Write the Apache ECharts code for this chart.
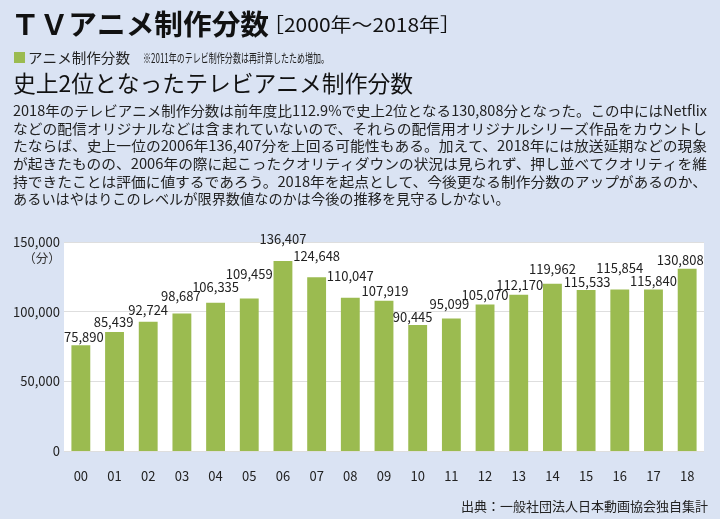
<!DOCTYPE html>
<html><head><meta charset="utf-8">
<script src="https://cdn.jsdelivr.net/npm/echarts@6/dist/echarts.min.js"></script>
<style>html,body{margin:0;padding:0;background:#dae3f3}#c{width:720px;height:519px}</style>
</head><body><div id="c"></div>
<script>
const years = ['00','01','02','03','04','05','06','07','08','09','10','11','12','13','14','15','16','17','18'];
const minutes = [75890,85439,92724,98687,106335,109459,136407,124648,110047,107919,90445,95099,105070,112170,119962,115533,115854,115840,130808];
const yMax = 150000;
const yStep = 50000;
const titleMain = 'ＴＶアニメ制作分数';
const titleRange = '［2000年～2018年］';
const legendName = 'アニメ制作分数';
const legendNote = '※2011年のテレビ制作分数は再計算したため増加。';
const subTitle = '史上2位となったテレビアニメ制作分数';
const bodyLines = [
  '2018年のテレビアニメ制作分数は前年度比112.9%で史上2位となる130,808分となった。この中にはNetflix',
  'などの配信オリジナルなどは含まれていないので、それらの配信用オリジナルシリーズ作品をカウントし',
  'たならば、史上一位の2006年136,407分を上回る可能性もある。加えて、2018年には放送延期などの現象',
  'が起きたものの、2006年の際に起こったクオリティダウンの状況は見られず、押し並べてクオリティを維',
  '持できたことは評価に値するであろう。2018年を起点として、今後更なる制作分数のアップがあるのか、',
  'あるいはやはりこのレベルが限界数値なのかは今後の推移を見守るしかない。'
];
const unitLabel = '（分）';
const sourceText = '出典：一般社団法人日本動画協会独自集計';

// label layout (px, styling only)
const labelRaise = [8,10,12,17,16,24,22,21,22,10,8,14,10,10,15,8,22,9,9];
const labelShiftX = [3,-1,0,-1,0,0,0,0,0,1,-5,-2,0,1,0,1,0,0,-7];

const FONT = '"Noto Sans CJK JP", "Noto Sans CJK SC", sans-serif';
const ctx = document.createElement('canvas').getContext('2d');
function measure(text, size, weight) {
  ctx.font = (weight || 'normal') + ' ' + size + 'px ' + FONT;
  return ctx.measureText(text).width;
}
function fitText(text, x, y, size, targetW, fill, weight) {
  const w = measure(text, size, weight);
  return {
    type: 'text', x: x, y: y, scaleX: targetW / w,
    style: { text: text, fontSize: size, fontFamily: FONT, fontWeight: weight || 'normal',
             fill: fill, verticalAlign: 'middle', align: 'left' }
  };
}
const graphics = [];
graphics.push(fitText(titleMain, 11, 24, 28, 258, '#111', 'bold'));
graphics.push(fitText(titleRange, 263, 25, 19, 198, '#111'));
graphics.push({ type: 'rect', shape: { x: 14, y: 52, width: 11, height: 11 }, style: { fill: '#9bbb50' } });
graphics.push(fitText(legendName, 28, 57.5, 14, 102, '#222'));
graphics.push(fitText(legendNote, 143, 58, 12.5, 186, '#222'));
graphics.push(fitText(subTitle, 13, 83, 22.5, 400, '#111'));
bodyLines.forEach(function (line, i) {
  const y = 111 + i * 17.55;
  if (i < bodyLines.length - 1) {
    graphics.push(fitText(line, 13, y, 14.2, 694, '#222'));
  } else {
    graphics.push({ type: 'text', x: 13, y: y, style: { text: line, fontSize: 14.2, fontFamily: FONT, fill: '#222', verticalAlign: 'middle' } });
  }
});
graphics.push({ type: 'text', x: 42, y: 258, style: { text: unitLabel, fontSize: 12.5, fontFamily: FONT, fill: '#333', align: 'center', verticalAlign: 'middle' } });
graphics.push({ type: 'text', x: 708, y: 506, style: { text: sourceText, fontSize: 13, fontFamily: FONT, fill: '#222', align: 'right', verticalAlign: 'middle' } });

const fmt = function (v) { return Number(v).toLocaleString('en-US'); };

const chart = echarts.init(document.getElementById('c'), null, { renderer: 'canvas' });
chart.setOption({
  backgroundColor: '#dae3f3',
  animation: false,
  textStyle: { fontFamily: FONT },
  grid: { left: 64, right: 16, top: 242, bottom: 68, show: true, backgroundColor: '#ffffff', borderWidth: 0 },
  xAxis: {
    type: 'category', data: years,
    axisLine: { show: false }, axisTick: { show: false },
    axisLabel: { color: '#222', fontSize: 13, margin: 19, fontFamily: FONT }
  },
  yAxis: {
    type: 'value', min: 0, max: yMax, interval: yStep,
    axisLine: { show: false }, axisTick: { show: false },
    axisLabel: { color: '#222', fontSize: 13, margin: 4, fontFamily: FONT, formatter: fmt },
    splitLine: { lineStyle: { color: '#dedede', width: 1 } }
  },
  series: [{
    type: 'bar', name: legendName,
    barCategoryGap: '44%',
    itemStyle: { color: '#9bbb50' },
    data: minutes.map(function (v, i) {
      return { value: v, label: { distance: labelRaise[i] - 6.5, offset: [labelShiftX[i], 0] } };
    }),
    label: { show: true, position: 'top', color: '#222', fontSize: 13, fontFamily: FONT, formatter: function (p) { return fmt(p.value); } }
  }],
  graphic: graphics
});
</script></body></html>
